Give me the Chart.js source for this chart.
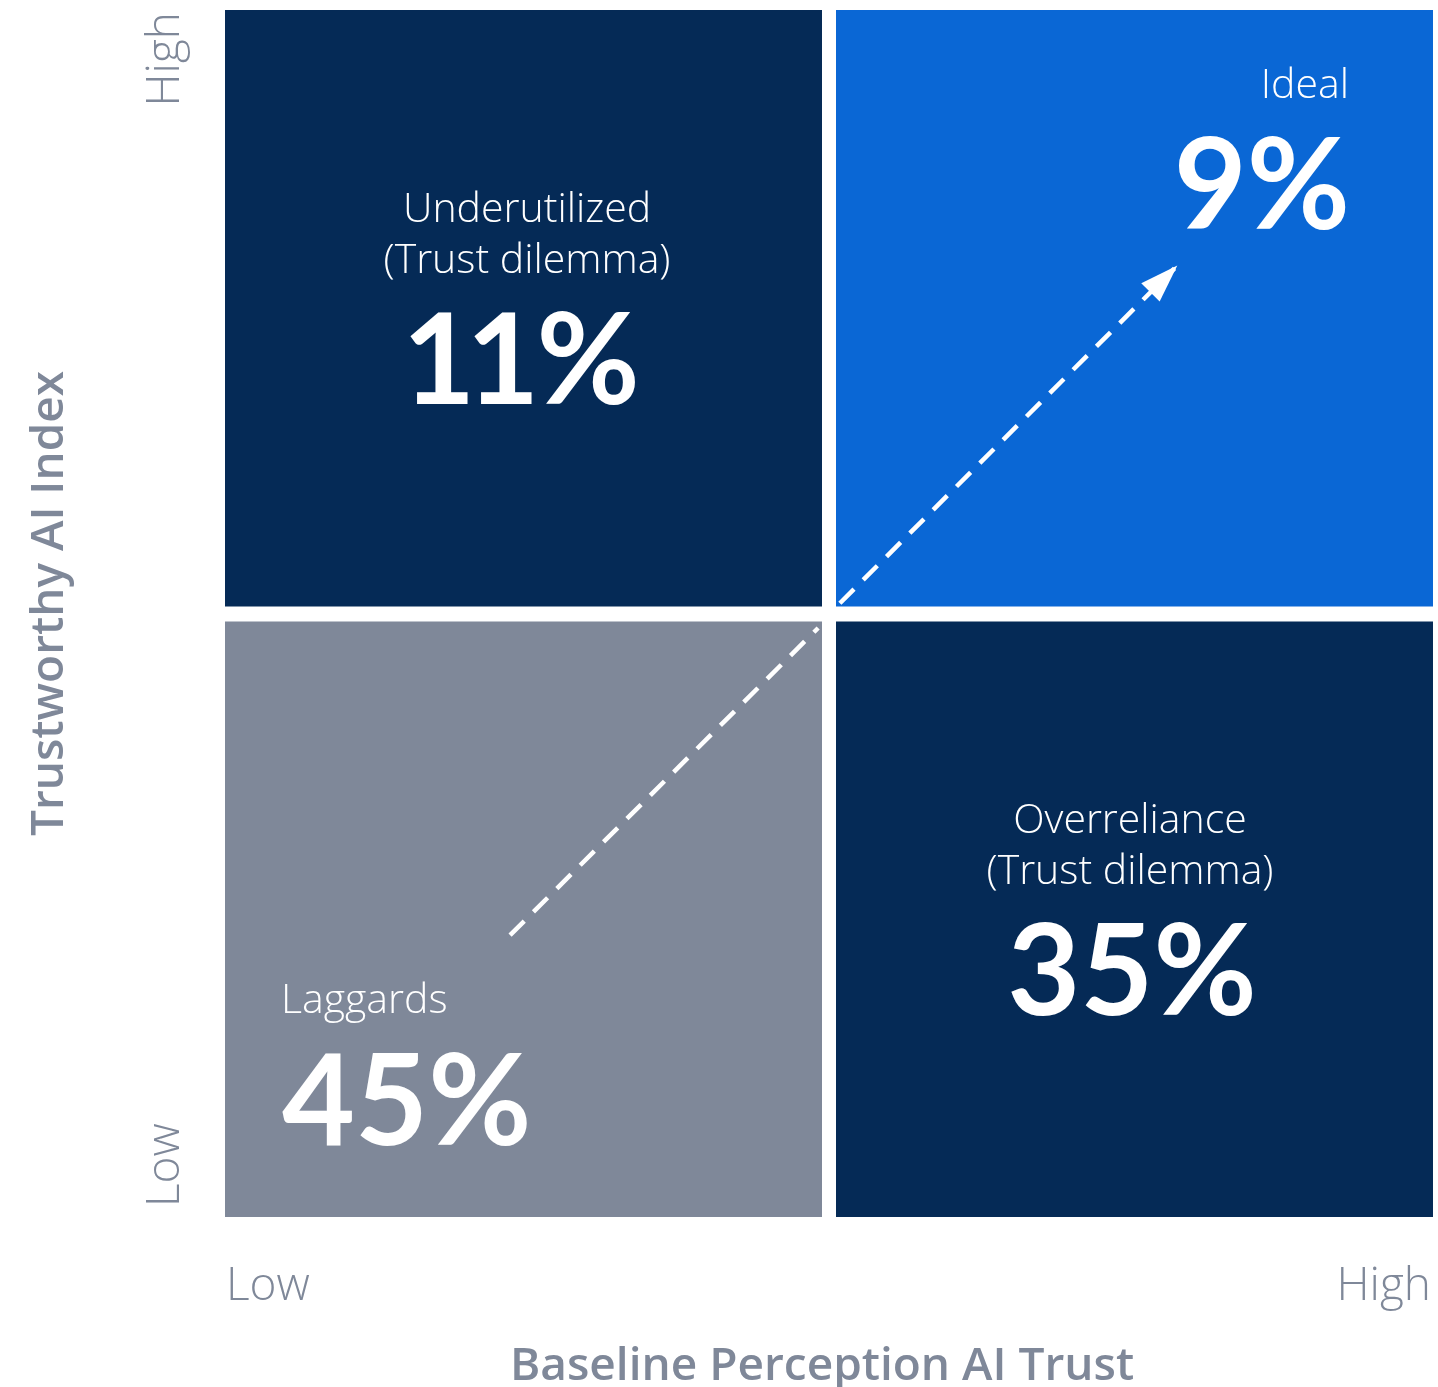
<!DOCTYPE html>
<html>
<head>
<meta charset="utf-8">
<script src="https://cdn.jsdelivr.net/npm/chart.js@4.4.1/dist/chart.umd.min.js"></script>
<style>
html,body{margin:0;padding:0;background:#fff;}
#wrap{width:1438px;height:1387px;}
</style>
</head>
<body>
<div id="wrap"><canvas id="c" width="1438" height="1387"></canvas></div>
<script>
// ---- data ----
const quadrantNames = ["Underutilized", "Ideal", "Laggards", "Overreliance"];
const quadrantSubtitles = ["(Trust dilemma)", "", "", "(Trust dilemma)"];
const quadrantValues = [11, 9, 45, 35];
const quadrantX = [[0, 1], [1, 2], [0, 1], [1, 2]];
const quadrantY = [[1, 2], [1, 2], [0, 1], [0, 1]];
const quadrantColors = ["#052A56", "#0A67D5", "#7F8899", "#052A56"];
const xTickLabels = ["Low", "High"];
const yTickLabels = ["Low", "High"];
const xAxisTitle = "Baseline Perception AI Trust";
const yAxisTitle = "Trustworthy AI Index";
const lowerPathX = [0.472, 0.982];
const lowerPathY = [0.467, 0.976];
const upperPathX = [1.018, 1.572];
const upperPathY = [1.017, 1.572];

const LIGHT = '300 41px "Open Sans", "Lato", sans-serif';
const BIG = '700 126px "Lato", "Open Sans", sans-serif';
const AXIS = '300 46px "Open Sans", "Lato", sans-serif';
const TITLE = '600 46px "Open Sans", "Lato", sans-serif';
const GREY = "#7F8899";

// draws "<value>%" with slightly tighter tracking after "1" digits; align: left|center|right
function drawValue(ctx, value, px, py, align) {
  const parts = String(value).split("").concat(["%"]);
  ctx.save();
  ctx.textAlign = "left";
  ctx.font = BIG;
  const adv = parts.map((p, k) => {
    let a = ctx.measureText(p).width;
    if (p === "1" && k + 1 < parts.length) a -= (parts[k + 1] === "1" ? 9 : 3);
    return a;
  });
  const total = adv.reduce((s, v) => s + v, 0);
  let sx = align === "center" ? px - total / 2 : align === "right" ? px - total : px;
  parts.forEach((p, k) => { ctx.fillText(p, sx, py); sx += adv[k]; });
  ctx.restore();
}

const quadPlugin = {
  id: 'quad',
  beforeDatasetsDraw(chart) {
    const {ctx, scales: {x, y}} = chart;
    const half = 7;
    ctx.save();
    for (let i = 0; i < quadrantValues.length; i++) {
      let l = x.getPixelForValue(quadrantX[i][0]);
      let r = x.getPixelForValue(quadrantX[i][1]);
      let t = y.getPixelForValue(quadrantY[i][1]);
      let b = y.getPixelForValue(quadrantY[i][0]);
      if (quadrantX[i][0] > 0) l += half;
      if (quadrantX[i][1] < 2) r -= half;
      if (quadrantY[i][1] < 2) t += half + 1;
      if (quadrantY[i][0] > 0) b -= half;
      ctx.fillStyle = quadrantColors[i];
      ctx.fillRect(l, t, r - l, b - t);
    }
    ctx.restore();
  },
  afterDatasetsDraw(chart) {
    const {ctx, scales: {x, y}, chartArea: ca} = chart;
    ctx.save();
    ctx.fillStyle = "#fff";
    ctx.textBaseline = "alphabetic";
    // arrow head on upper path
    const x0 = x.getPixelForValue(upperPathX[0]), y0 = y.getPixelForValue(upperPathY[0]);
    const x1 = x.getPixelForValue(upperPathX[1]), y1 = y.getPixelForValue(upperPathY[1]);
    const ang = Math.atan2(y1 - y0, x1 - x0);
    const L = 34, W = 13;
    ctx.beginPath();
    ctx.moveTo(x1 + 4 * Math.cos(ang), y1 + 4 * Math.sin(ang));
    ctx.lineTo(x1 - L * Math.cos(ang) + W * Math.sin(ang), y1 - L * Math.sin(ang) - W * Math.cos(ang));
    ctx.lineTo(x1 - L * Math.cos(ang) - W * Math.sin(ang), y1 - L * Math.sin(ang) + W * Math.cos(ang));
    ctx.closePath();
    ctx.fill();

    const cx = (i) => (x.getPixelForValue(quadrantX[i][0]) + x.getPixelForValue(quadrantX[i][1])) / 2;
    const top = y.getPixelForValue(2);
    const by = y.getPixelForValue(1);
    // Underutilized (top-left), centered
    ctx.textAlign = "center";
    ctx.font = LIGHT;
    ctx.fillText(quadrantNames[0], cx(0), top + 212);
    ctx.fillText(quadrantSubtitles[0], cx(0), top + 263);
    drawValue(ctx, quadrantValues[0], cx(0) - 6, top + 394, "center");
    // Overreliance (bottom-right)
    ctx.font = LIGHT;
    ctx.fillText(quadrantNames[3], cx(3) - 1, by + 219);
    ctx.fillText(quadrantSubtitles[3], cx(3) - 1, by + 270);
    drawValue(ctx, quadrantValues[3], cx(3) + 1, by + 401, "center");
    // Ideal (top-right) right aligned
    ctx.textAlign = "right";
    const rr = x.getPixelForValue(2) - 84;
    ctx.font = LIGHT;
    ctx.fillText(quadrantNames[1], rr, top + 88);
    drawValue(ctx, quadrantValues[1], rr + 1, top + 219, "right");
    // Laggards (bottom-left)
    ctx.textAlign = "left";
    const ll = x.getPixelForValue(0) + 56;
    ctx.font = LIGHT;
    ctx.fillText(quadrantNames[2], ll, by + 399);
    drawValue(ctx, quadrantValues[2], ll + 1, by + 531, "left");

    // axis tick labels
    ctx.fillStyle = GREY;
    ctx.font = AXIS;
    ctx.textAlign = "left";
    ctx.fillText(xTickLabels[0], x.getPixelForValue(0) + 1, ca.bottom + 83);
    ctx.textAlign = "right";
    ctx.fillText(xTickLabels[1], x.getPixelForValue(2) - 2, ca.bottom + 83);
    // y tick labels rotated
    ctx.save();
    ctx.translate(ca.left - 46, 0);
    ctx.rotate(-Math.PI / 2);
    ctx.textAlign = "left";
    ctx.fillText(yTickLabels[0], -y.getPixelForValue(0) + 10, 0);
    ctx.textAlign = "right";
    ctx.fillText(yTickLabels[1], -y.getPixelForValue(2) - 2, 0);
    ctx.restore();
    // axis titles
    ctx.font = TITLE;
    ctx.textAlign = "center";
    ctx.fillText(xAxisTitle, (ca.left + ca.right) / 2 - 7, ca.bottom + 163);
    ctx.save();
    ctx.translate(ca.left - 162, (ca.top + ca.bottom) / 2 - 10);
    ctx.rotate(-Math.PI / 2);
    ctx.fillText(yAxisTitle, 0, 0);
    ctx.restore();
    ctx.restore();
  }
};

function build() {
  new Chart(document.getElementById('c'), {
    type: 'scatter',
    data: {
      datasets: [
        {data: lowerPathX.map((v, i) => ({x: v, y: lowerPathY[i]})), showLine: true, borderColor: '#fff', borderWidth: 4.5, borderDash: [20, 13], pointRadius: 0, borderCapStyle: 'butt'},
        {data: upperPathX.map((v, i) => ({x: v, y: upperPathY[i]})), showLine: true, borderColor: '#fff', borderWidth: 4.5, borderDash: [20, 13], pointRadius: 0, borderCapStyle: 'butt'}
      ]
    },
    options: {
      responsive: false,
      animation: false,
      devicePixelRatio: 1,
      layout: {padding: {left: 225, top: 10, right: 5, bottom: 170}},
      plugins: {legend: {display: false}, tooltip: {enabled: false}},
      scales: {
        x: {type: 'linear', min: 0, max: 2, display: false},
        y: {type: 'linear', min: 0, max: 2, display: false}
      }
    },
    plugins: [quadPlugin]
  });
}
Promise.all([
  document.fonts.load('300 40px "Open Sans"'),
  document.fonts.load('600 40px "Open Sans"'),
  document.fonts.load('700 40px "Lato"')
]).then(build, build);
</script>
</body>
</html>
